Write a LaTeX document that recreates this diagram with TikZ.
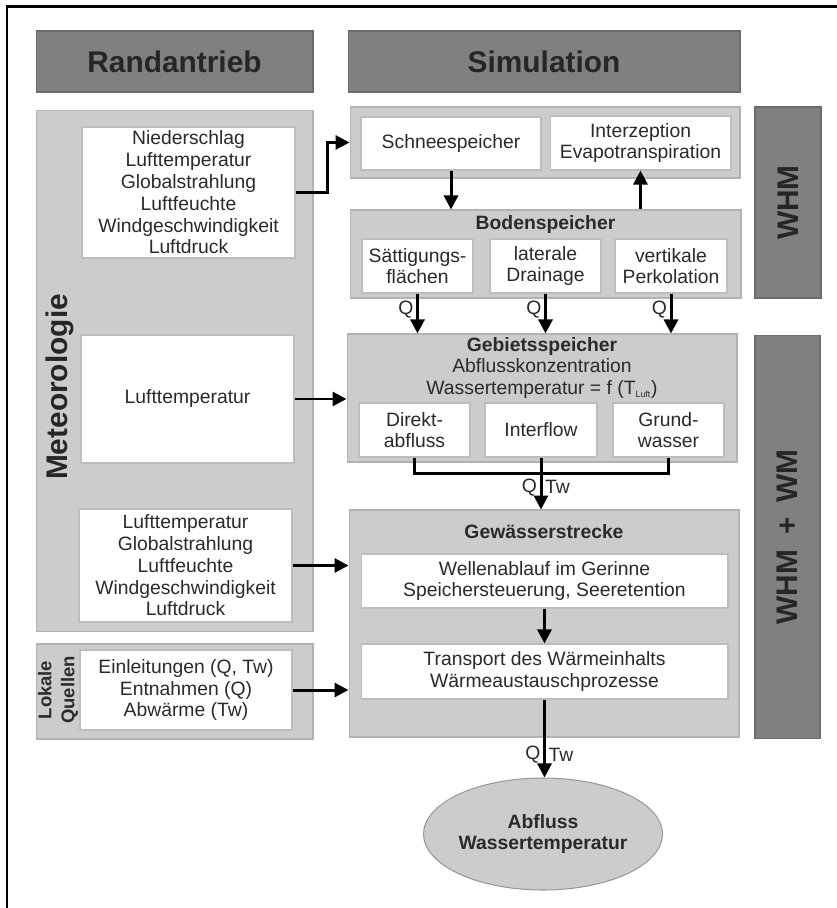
\documentclass[tikz,border=0pt]{standalone}
\usepackage{fontspec}
\setmainfont{Liberation Sans}
\usepackage{xcolor}
\usepackage{tikz}
\usetikzlibrary{arrows.meta,positioning,shapes.geometric}
\definecolor{HdrGray}{HTML}{808080}
\definecolor{HdrEdge}{HTML}{6C6C6C}
\definecolor{PanelGray}{HTML}{CCCCCC}
\definecolor{PanelEdge}{HTML}{B2B2B2}
\definecolor{BoxEdge}{HTML}{BDBDBD}
\definecolor{TextDark}{HTML}{2A2A2A}
\newcommand{\boxfont}{\fontsize{11}{12.4}\selectfont}
\newcommand{\headfont}{\fontsize{17}{20}\selectfont\bfseries}
\tikzset{
  headbox/.style={draw=HdrEdge,fill=HdrGray,line width=0.6pt,font=\headfont,text=black!85,inner sep=0pt},
  panelbox/.style={draw=PanelEdge,fill=PanelGray,line width=0.6pt,inner sep=0pt},
  inbox/.style={draw=BoxEdge,fill=white,line width=0.6pt,align=center,font=\boxfont,text=TextDark,inner sep=0pt},
  titletext/.style={font=\boxfont\bfseries,text=TextDark,align=center,inner sep=0pt},
  qlabel/.style={font=\boxfont,text=TextDark,inner sep=1.5pt},
  resultell/.style={ellipse,draw=black!40,fill=PanelGray,line width=0.6pt,font=\boxfont\bfseries,text=TextDark,align=center,inner sep=0pt},
  flowarrow/.style={-{Triangle[length=2.8mm,width=2.8mm]},line width=1.7pt,draw=black},
  flowline/.style={line width=1.7pt,draw=black}
}

\begin{document}
\begin{tikzpicture}[x=0.02cm,y=-0.02cm]
\useasboundingbox (0,0) rectangle (837,908);
\draw[line width=1.7pt] (7,908) -- (7,7) -- (837,7);

% Kopfzeilen
\node[headbox,minimum width=5.54cm,minimum height=1.22cm] (rand) at (174.5,61.5) {Randantrieb};
\node[headbox,minimum width=7.84cm,minimum height=1.22cm] (sim) at (544,61.5) {Simulation};

% Randantrieb
\node[panelbox,minimum width=5.54cm,minimum height=10.44cm] (meteo) at (174.5,371) {};
\node[panelbox,minimum width=5.54cm,minimum height=1.9cm] (lokal) at (174.5,691.5) {};
\node[font=\headfont,text=black!85,rotate=90] (meteolab) at (60,387) {Meteorologie};
\node[font=\fontsize{10.5}{12}\selectfont\bfseries,text=TextDark,rotate=90,align=center] (lokallab) at (58,690) {Lokale\\[1pt]Quellen};
\node[inbox,minimum width=4.26cm,minimum height=2.62cm] (niedr) at (188.5,192.5)
  {Niederschlag\\Lufttemperatur\\Globalstrahlung\\Luftfeuchte\\Windgeschwindigkeit\\Luftdruck};
\node[inbox,minimum width=4.26cm,minimum height=2.56cm] (lufttemp) at (187.5,399) {Lufttemperatur};
\node[inbox,minimum width=4.26cm,minimum height=2.26cm] (klima) at (185.5,565.5)
  {Lufttemperatur\\Globalstrahlung\\Luftfeuchte\\Windgeschwindigkeit\\Luftdruck};
\node[inbox,minimum width=4.24cm,minimum height=1.6cm] (quellen) at (186,690)
  {Einleitungen (Q, Tw)\\Entnahmen (Q)\\Abwärme (Tw)};

% Simulation
\node[panelbox,minimum width=7.8cm,minimum height=1.42cm] (oben) at (545,142.5) {};
\node[inbox,minimum width=3.6cm,minimum height=1.06cm] (schnee) at (451,143.5) {Schneespeicher};
\node[inbox,minimum width=3.62cm,minimum height=1.08cm] (interz) at (640.5,143) {Interzeption\\Evapotranspiration};

\node[panelbox,minimum width=7.82cm,minimum height=1.76cm] (boden) at (545.5,254) {};
\node[titletext] (bodentitel) at (545.5,225) {Bodenspeicher};
\node[inbox,minimum width=2.22cm,minimum height=1.08cm] (saett) at (417.5,266) {Sättigungs-\\flächen};
\node[inbox,minimum width=2.22cm,minimum height=1.08cm] (lateral) at (545.5,266) {laterale\\Drainage};
\node[inbox,minimum width=2.24cm,minimum height=1.08cm] (vertik) at (671,266) {vertikale\\Perkolation};

\node[panelbox,minimum width=7.8cm,minimum height=2.56cm] (gebiet) at (542,398) {};
\node[titletext] (gebiettitel) at (542,368)
  {Gebietsspeicher\\\mdseries Abflusskonzentration\\\mdseries Wassertemperatur = f (T\textsubscript{\tiny Luft})};
\node[inbox,minimum width=2.22cm,minimum height=1.08cm] (direkt) at (414.5,430) {Direkt-\\abfluss};
\node[inbox,minimum width=2.24cm,minimum height=1.08cm] (interflow) at (541,430) {Interflow};
\node[inbox,minimum width=2.22cm,minimum height=1.08cm] (grund) at (668.5,430) {Grund-\\wasser};

\node[panelbox,minimum width=7.8cm,minimum height=4.54cm] (gew) at (544,623.5) {};
\node[titletext] (gewtitel) at (544,532) {Gewässerstrecke};
\node[inbox,minimum width=7.34cm,minimum height=1.08cm] (welle) at (544.5,581)
  {Wellenablauf im Gerinne\\Speichersteuerung, Seeretention};
\node[inbox,minimum width=7.34cm,minimum height=1.1cm] (transp) at (544.5,671.5)
  {Transport des Wärmeinhalts\\Wärmeaustauschprozesse};

\node[resultell,minimum width=4.72cm,minimum height=2.24cm] (ergebnis) at (543,834) {Abfluss\\Wassertemperatur};

% Modellteile
\node[headbox,rotate=90,minimum width=3.82cm,minimum height=1.32cm] (whm) at (788,202.5) {WHM};
\node[headbox,rotate=90,minimum width=8.08cm,minimum height=1.3cm] (whmwm) at (787.5,537) {WHM\enspace+\enspace WM};

% Verbindungen
\draw[flowarrow] (niedr.east) -- ++(32,0) |- (oben.west);
\draw[flowarrow] (schnee.south) -- (schnee.south |- boden.north);
\draw[flowarrow] (interz.south |- boden.north) -- (interz.south);
\draw[flowarrow] (saett.south) -- (saett.south |- gebiet.north) node[qlabel,pos=0.4,left] {Q};
\draw[flowarrow] (lateral.south) -- (lateral.south |- gebiet.north) node[qlabel,pos=0.4,left] {Q};
\draw[flowarrow] (vertik.south) -- (vertik.south |- gebiet.north) node[qlabel,pos=0.4,left] {Q};
\draw[flowarrow] (lufttemp.east) -- (lufttemp.east -| gebiet.west);
\draw[flowline] (direkt.south) -- ++(0,16) -| (grund.south);
\draw[flowarrow] (interflow.south) -- (interflow.south |- gew.north)
  node[qlabel,pos=0.57,left] {Q} node[qlabel,pos=0.57,right] {Tw};
\draw[flowarrow] (klima.east) -- (klima.east -| gew.west);
\draw[flowarrow] (quellen.east) -- (quellen.east -| gew.west);
\draw[flowarrow] (welle.south) -- (transp.north);
\draw[flowarrow] (transp.south) -- (transp.south |- ergebnis.north)
  node[qlabel,pos=0.71,left] {Q} node[qlabel,pos=0.71,right] {Tw};
\end{tikzpicture}
\end{document}
